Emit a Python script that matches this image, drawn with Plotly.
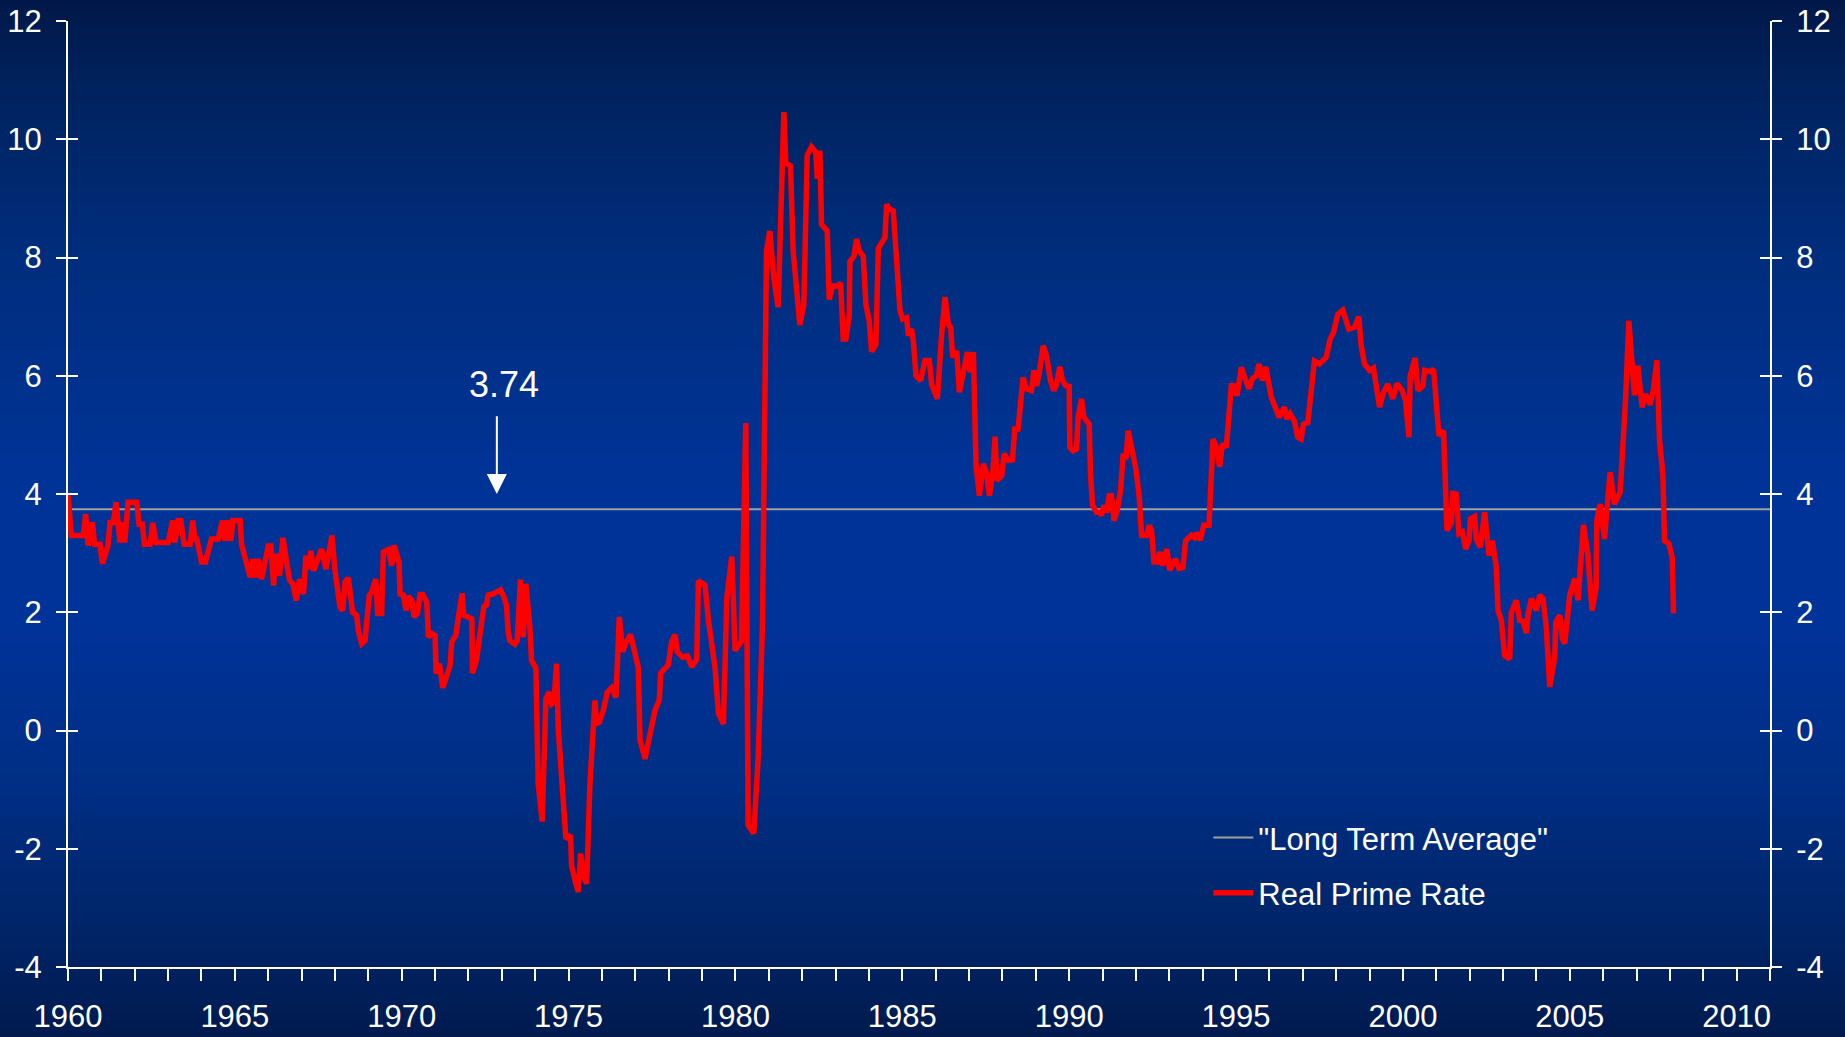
import plotly.graph_objects as go

# ---------------- data ----------------
years = [
    1960.0, 1960.1, 1960.46, 1960.53, 1960.6, 1960.73, 1960.8, 1960.96, 1961.03, 1961.2,
    1961.26, 1961.36, 1961.44, 1961.56, 1961.64, 1961.7, 1961.8, 1962.06, 1962.13, 1962.23,
    1962.29, 1962.46, 1962.54, 1962.64, 1963.0, 1963.14, 1963.2, 1963.3, 1963.38, 1963.48,
    1963.66, 1963.74, 1963.8, 1963.86, 1964.0, 1964.12, 1964.3, 1964.5, 1964.63, 1964.7,
    1964.76, 1964.88, 1964.94, 1965.16, 1965.2, 1965.3, 1965.46, 1965.54, 1965.63, 1965.7,
    1965.8, 1966.0, 1966.08, 1966.16, 1966.23, 1966.34, 1966.44, 1966.64, 1966.74, 1966.84,
    1966.94, 1967.06, 1967.13, 1967.21, 1967.28, 1967.36, 1967.6, 1967.73, 1967.91,
    1968.0, 1968.15, 1968.23, 1968.3, 1968.4, 1968.47, 1968.53, 1968.65, 1968.7, 1968.8,
    1968.9, 1969.03, 1969.1, 1969.22, 1969.28, 1969.4, 1969.45, 1969.6, 1969.7, 1969.77,
    1969.92, 1969.95, 1970.05, 1970.13, 1970.2, 1970.3, 1970.37, 1970.47, 1970.55, 1970.63,
    1970.75, 1970.8, 1970.9, 1971.0, 1971.03, 1971.13, 1971.17, 1971.23, 1971.37, 1971.45,
    1971.5, 1971.62, 1971.7, 1971.81, 1971.86, 1972.1, 1972.12, 1972.24, 1972.32, 1972.41,
    1972.46, 1972.54, 1972.59, 1972.74, 1972.86, 1972.96, 1973.06, 1973.14, 1973.19, 1973.24,
    1973.39, 1973.46, 1973.56, 1973.64, 1973.72, 1973.84, 1973.89, 1974.02, 1974.09, 1974.21,
    1974.32, 1974.42, 1974.49, 1974.56, 1974.64, 1974.69, 1974.84, 1974.92, 1975.06, 1975.09,
    1975.19, 1975.29, 1975.36, 1975.44, 1975.54, 1975.64, 1975.79, 1975.84, 1975.92,
    1976.04, 1976.16, 1976.29, 1976.42, 1976.52, 1976.62, 1976.72, 1976.86, 1976.99, 1977.09,
    1977.14, 1977.29, 1977.39, 1977.49, 1977.59, 1977.72, 1977.76, 1977.99, 1978.09, 1978.19,
    1978.26, 1978.42, 1978.56, 1978.69, 1978.84, 1978.89, 1979.09, 1979.19, 1979.39, 1979.49,
    1979.64, 1979.74, 1979.89, 1979.99, 1980.18, 1980.31, 1980.38, 1980.55, 1980.68, 1980.81,
    1980.93, 1981.03, 1981.15, 1981.28, 1981.38, 1981.45, 1981.51, 1981.65, 1981.73, 1981.93,
    1982.05, 1982.15, 1982.28, 1982.41, 1982.45, 1982.53, 1982.58, 1982.75, 1982.81, 1982.91,
    1983.08, 1983.15, 1983.23, 1983.31, 1983.41, 1983.43, 1983.55, 1983.63, 1983.71, 1983.83,
    1983.91, 1984.01, 1984.08, 1984.21, 1984.28,
    1984.38, 1984.48, 1984.53, 1984.61, 1984.73, 1984.83, 1984.93, 1985.01, 1985.13, 1985.18,
    1985.28, 1985.33, 1985.41, 1985.55, 1985.68, 1985.81, 1985.88, 1986.05, 1986.11, 1986.18,
    1986.28, 1986.38, 1986.45, 1986.51, 1986.63, 1986.71, 1986.81, 1986.95, 1987.03, 1987.13,
    1987.21, 1987.31, 1987.43, 1987.53, 1987.61, 1987.71, 1987.78, 1987.83, 1987.98, 1988.05,
    1988.17, 1988.3, 1988.37, 1988.47, 1988.62, 1988.72, 1988.87, 1988.94, 1989.02, 1989.1,
    1989.22, 1989.32, 1989.44, 1989.54, 1989.62, 1989.72, 1989.8, 1989.9, 1990.0, 1990.02,
    1990.12, 1990.22, 1990.27, 1990.37, 1990.44, 1990.6, 1990.64, 1990.7, 1990.82, 1990.9,
    1990.97, 1991.04, 1991.12, 1991.2, 1991.27, 1991.34, 1991.44, 1991.54, 1991.62, 1991.7,
    1991.77, 1991.94, 1992.0, 1992.1, 1992.17, 1992.32, 1992.4, 1992.47, 1992.54, 1992.64,
    1992.72, 1992.79, 1992.93, 1993.01, 1993.19, 1993.29, 1993.41, 1993.49, 1993.66, 1993.76,
    1993.83, 1993.93, 1994.03, 1994.19, 1994.31, 1994.41, 1994.51, 1994.59, 1994.71, 1994.86,
    1994.96, 1995.03, 1995.16, 1995.26, 1995.39, 1995.49, 1995.61, 1995.69, 1995.79, 1995.89,
    1996.06, 1996.16, 1996.29, 1996.45, 1996.52, 1996.62, 1996.75, 1996.85, 1996.95, 1997.02,
    1997.15, 1997.35, 1997.5, 1997.7, 1997.82, 1997.92, 1998.05, 1998.2, 1998.38, 1998.55,
    1998.68, 1998.75, 1998.85, 1999.0, 1999.12, 1999.3, 1999.42, 1999.55, 1999.7, 1999.82,
    1999.98, 2000.08, 2000.18, 2000.22, 2000.37, 2000.45, 2000.6, 2000.65, 2000.82, 2000.92,
    2001.08, 2001.22,
    2001.32, 2001.45, 2001.5, 2001.6, 2001.68, 2001.78, 2001.88, 2001.98, 2002.02, 2002.15,
    2002.2, 2002.32, 2002.45, 2002.58, 2002.68, 2002.8, 2002.85, 2002.95, 2003.05, 2003.2,
    2003.25, 2003.4, 2003.5, 2003.6, 2003.7, 2003.75, 2003.85, 2004.0, 2004.1, 2004.2,
    2004.3, 2004.4, 2004.55, 2004.58, 2004.7, 2004.78, 2004.85, 2005.0, 2005.15, 2005.25,
    2005.41, 2005.54, 2005.67, 2005.79, 2005.81, 2005.91, 2006.04, 2006.21, 2006.34, 2006.51,
    2006.59, 2006.67, 2006.77, 2006.94, 2007.04, 2007.17, 2007.27, 2007.41, 2007.51, 2007.61,
    2007.69, 2007.79, 2007.84, 2007.97, 2008.07, 2008.11,
]

real_prime_rate = [
    4.0, 3.3, 3.3, 3.66, 3.13, 3.52, 3.15, 3.15, 2.82, 3.13,
    3.52, 3.52, 3.86, 3.18, 3.52, 3.18, 3.86, 3.86, 3.49, 3.49,
    3.15, 3.15, 3.51, 3.18, 3.18, 3.55, 3.18, 3.55, 3.55, 3.15,
    3.15, 3.55, 3.24, 3.24, 2.85, 2.85, 3.24, 3.24, 3.55, 3.21,
    3.55, 3.21, 3.55, 3.55, 3.15, 2.9, 2.59, 2.9, 2.59, 2.9,
    2.56, 3.12, 3.12, 2.45, 2.99, 2.62, 3.26, 2.54, 2.48, 2.2,
    2.56, 2.31, 2.96, 2.73, 3.04, 2.7, 3.07, 2.73, 3.3,
    2.71, 2.09, 2.03, 2.51, 2.58, 2.26, 2.0, 1.95, 1.69, 1.47,
    1.52, 2.29, 2.34, 2.56, 1.98, 1.98, 3.02, 3.06, 2.79, 3.13,
    2.85, 2.31, 2.29, 2.03, 2.27, 2.2, 1.92, 1.98, 2.3, 2.3,
    2.17, 1.58, 1.64, 1.61, 0.96, 1.13, 0.99, 0.72, 0.96, 1.1,
    1.5, 1.61, 1.92, 2.32, 1.95, 1.89, 0.97, 1.19, 1.52, 1.81,
    2.09, 2.12, 2.29, 2.31, 2.34, 2.38, 2.26, 2.12, 1.67, 1.52,
    1.46, 1.52, 2.55, 1.58, 2.48, 1.75, 1.19, 1.05, -0.9, -1.54,
    0.54, 0.65, 0.45, 0.48, 1.13, 0.03, -1.18, -1.83, -1.77, -2.28,
    -2.53, -2.73, -2.08, -2.45, -2.59, -0.9, 0.51, 0.12, 0.14,
    0.34, 0.65, 0.72, 0.56, 1.92, 1.33, 1.49, 1.62, 1.24, 1.06,
    -0.16, -0.48, -0.2, 0.07, 0.34, 0.52, 0.97, 1.11, 1.51, 1.62,
    1.33, 1.24, 1.26, 1.08, 1.2, 2.53, 2.46, 1.87, 1.06, 0.29,
    0.11, 2.24, 2.94, 1.35, 1.51, 5.2, -1.6, -1.74, -0.47, 1.78,
    8.11, 8.45, 7.65, 7.16, 9.01, 10.46, 9.6, 9.55, 8.11, 6.86,
    7.2, 9.73, 9.87, 9.78, 9.33, 9.81, 8.56, 8.45, 7.29, 7.52,
    7.52, 7.57, 6.62, 6.62, 7.02, 7.93, 8.02, 8.31, 8.11, 8.02,
    7.2, 6.93, 6.41, 6.53, 8.15,
    8.23, 8.34, 8.9, 8.82, 8.79, 8.0, 7.1, 6.96, 6.98, 6.68,
    6.79, 6.59, 6.0, 5.92, 6.26, 6.26, 5.85, 5.61, 6.28, 6.71,
    7.33, 6.87, 6.82, 6.31, 6.42, 5.72, 6.0, 6.4, 6.06, 6.4,
    4.48, 3.97, 4.51, 4.34, 3.97, 4.34, 4.97, 4.23, 4.31, 4.68,
    4.57, 4.58, 5.1, 5.1, 5.97, 5.78, 5.75, 6.09, 5.83, 6.03,
    6.51, 6.34, 5.92, 5.75, 5.85, 6.15, 5.92, 5.83, 5.82, 4.79,
    4.73, 4.76, 5.3, 5.61, 5.3, 5.18, 4.34, 3.81, 3.69, 3.69,
    3.64, 3.81, 3.69, 3.97, 3.97, 3.55, 3.72, 4.06, 4.68, 4.59,
    5.07, 4.51, 4.42, 3.95, 3.3, 3.3, 3.47, 3.38, 2.85, 2.85,
    3.02, 2.79, 3.07, 2.71, 2.9, 2.74, 2.76, 3.21, 3.3, 3.26,
    3.34, 3.22, 3.47, 3.47, 4.93, 4.79, 4.46, 4.85, 4.79, 5.83,
    5.83, 5.66, 6.14, 5.97, 5.78, 5.95, 6.0, 6.2, 5.92, 6.15,
    5.63, 5.49, 5.3, 5.47, 5.27, 5.36, 5.23, 4.96, 4.93, 5.18,
    5.21, 6.25, 6.2, 6.31, 6.62, 6.73, 7.04, 7.11, 6.79, 6.82,
    7.0, 6.51, 6.2, 6.09, 6.13, 5.47, 5.72, 5.86, 5.61, 5.87,
    5.75, 5.58, 4.96, 6.0, 6.3, 5.75, 5.83, 6.09, 6.07, 6.11,
    4.99, 5.07,
    3.38, 3.51, 4.01, 4.0, 3.33, 3.36, 3.07, 3.21, 3.58, 3.62,
    3.23, 3.1, 3.69, 2.96, 3.21, 2.76, 2.03, 1.86, 1.27, 1.21,
    2.0, 2.2, 1.86, 1.85, 1.65, 1.95, 2.23, 2.03, 2.29, 2.23,
    1.72, 0.74, 1.24, 1.83, 1.95, 1.55, 1.47, 2.29, 2.57, 2.2,
    3.48, 2.99, 2.03, 2.4, 3.55, 3.83, 3.24, 4.37, 3.83, 4.03,
    4.73, 5.58, 6.93, 5.67, 6.17, 5.47, 5.69, 5.51, 5.78, 6.26,
    4.9, 4.34, 3.21, 3.16, 2.93, 1.98,
]

avg_years = [1960, 2011]
long_term_average = 3.74

x_ticks = [1960, 1965, 1970, 1975, 1980, 1985, 1990, 1995, 2000, 2005, 2010]
y_ticks = [-4, -2, 0, 2, 4, 6, 8, 10, 12]
y_tick_labels = ["-4", "-2", "0", "2", "4", "6", "8", "10", "12"]

# ---------------- layout constants ----------------
W, H = 1845, 1037
ML, MR, MT, MB = 68, 75, 21, 70
PW, PH = W - ML - MR, H - MT - MB
FONT = "Arial, Liberation Sans, sans-serif"
WHITE = "#FFFFFF"

fig = go.Figure()

fig.add_trace(go.Scatter(
    x=avg_years, y=[long_term_average] * len(avg_years),
    mode="lines", name='"Long Term Average"',
    line=dict(color="#A0A0A0", width=2),
    legendgroup="a", hoverinfo="skip",
))
fig.add_trace(go.Scatter(
    x=years, y=real_prime_rate,
    mode="lines", name="Real Prime Rate",
    line=dict(color="#FF0000", width=5.5),
    legendgroup="b",
))

# background vertical gradient (paper shapes covering the whole figure)
stops = [
    (0.00, (0, 24, 72)),
    (0.09, (0, 35, 95)),
    (0.25, (0, 45, 125)),
    (0.45, (0, 51, 150)),
    (0.60, (0, 51, 153)),
    (0.76, (0, 46, 132)),
    (0.90, (0, 36, 102)),
    (1.00, (0, 26, 78)),
]


def grad_color(f):
    for (f0, c0), (f1, c1) in zip(stops[:-1], stops[1:]):
        if f0 <= f <= f1:
            t = (f - f0) / (f1 - f0)
            return "rgb(%d,%d,%d)" % tuple(round(a + (b - a) * t) for a, b in zip(c0, c1))
    return "rgb(%d,%d,%d)" % stops[-1][1]


shapes = []
band = 6
for top in range(0, H, band):
    bot = min(H, top + band + 1)
    f = (top + band / 2) / H
    shapes.append(dict(
        type="rect", xref="paper", yref="paper", layer="below",
        x0=-ML / PW, x1=1 + MR / PW,
        y0=(H - MB - bot) / PH, y1=(H - MB - top) / PH,
        line=dict(width=0), fillcolor=grad_color(f),
    ))

tickfont = dict(family=FONT, size=31, color=WHITE)
common_y = dict(range=[-4, 12], tickvals=y_ticks, ticktext=y_tick_labels,
                showgrid=False, zeroline=False,
                tickcolor=WHITE, tickwidth=2, ticklen=10, fixedrange=True,
                automargin=False)

fig.update_layout(
    width=W, height=H, autosize=False,
    margin=dict(l=ML, r=MR, t=MT, b=MB, pad=0, autoexpand=False),
    paper_bgcolor="rgb(0,26,78)",
    plot_bgcolor="rgba(0,0,0,0)",
    shapes=shapes,
    font=dict(family=FONT, color=WHITE),
    showlegend=True,
    legend=dict(
        x=0.670, y=0.165, xanchor="left", yanchor="top",
        bgcolor="rgba(0,0,0,0)", font=dict(family=FONT, size=31, color=WHITE),
        traceorder="grouped", tracegroupgap=12, itemwidth=40,
    ),
    xaxis=dict(
        range=[1960, 2011], tickvals=x_ticks, ticks="outside", ticklen=12,
        tickwidth=2, tickcolor=WHITE, showline=True, linecolor=WHITE, linewidth=2,
        showgrid=False, zeroline=False, tickfont=tickfont, ticklabelstandoff=9,
        minor=dict(dtick=1, tick0=1960, ticks="outside", ticklen=12, tickwidth=2,
                   tickcolor=WHITE, showgrid=False),
        fixedrange=True, automargin=False,
    ),
    yaxis=dict(side="left", ticks="outside", showline=True, linecolor=WHITE,
               linewidth=2, tickfont=tickfont, ticklabelstandoff=8, **common_y),
    yaxis2=dict(side="right", overlaying="y", anchor="x", ticks="outside", showline=True,
                linecolor=WHITE, linewidth=2, tickfont=tickfont, ticklabelstandoff=8,
                **common_y),
    yaxis3=dict(side="left", overlaying="y", anchor="x", ticks="inside",
                showline=False, showticklabels=False, **common_y),
    yaxis4=dict(side="right", overlaying="y", anchor="x", ticks="inside",
                showline=False, showticklabels=False, **common_y),
    annotations=[
        dict(x=1973.06, y=5.85, xref="x", yref="y", text="3.74", showarrow=False,
             font=dict(family=FONT, size=36, color=WHITE)),
        dict(x=1972.85, y=4.0, xref="x", yref="y", ax=1972.85, ay=5.34,
             axref="x", ayref="y", text="", showarrow=True, arrowhead=2,
             arrowsize=2.0, arrowwidth=2, arrowcolor=WHITE),
    ],
)

# dummy traces so the overlaying axes are instantiated
for ax in ["y2", "y3", "y4"]:
    fig.add_trace(go.Scatter(x=[None], y=[None], yaxis=ax, showlegend=False,
                             hoverinfo="skip"))

fig.write_html(
    "out.html",
    config={"displayModeBar": False},
    post_script="document.body.style.margin='0';document.body.style.overflow='hidden';",
)
